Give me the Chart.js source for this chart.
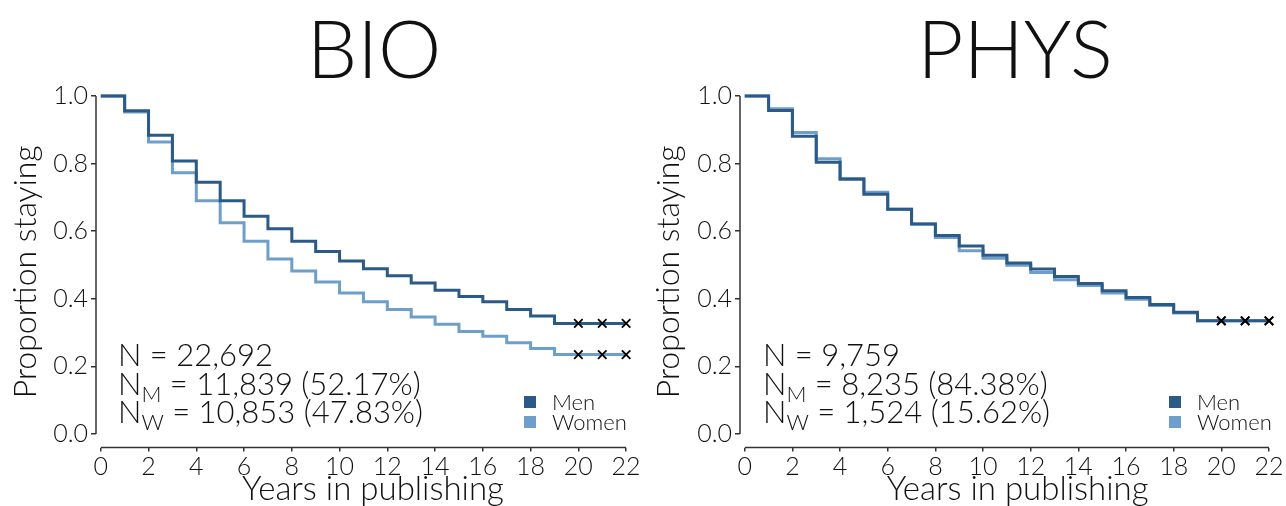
<!DOCTYPE html>
<html><head><meta charset="utf-8">
<script src="https://cdn.jsdelivr.net/npm/chart.js@4.4.0/dist/chart.umd.min.js"></script>
<style>
html,body{margin:0;padding:0;background:#fff;}
#wrap{position:relative;width:1286px;height:506px;overflow:hidden;font-family:Lato,sans-serif;font-weight:300;color:#111;}
canvas{position:absolute;top:0;}
.title{position:absolute;font-size:80px;line-height:80px;width:400px;text-align:center;white-space:nowrap;}
.ann{position:absolute;font-size:31px;line-height:28.5px;white-space:nowrap;}
.ann sub{font-size:22px;vertical-align:-7px;line-height:0;}
.leg{position:absolute;font-size:22px;line-height:20px;}
.leg .row{display:flex;align-items:center;height:20px;}
.leg .sw{width:12px;height:12px;margin-right:16px;}
</style></head>
<body>
<div id="wrap">
  <canvas id="c1" width="660" height="506" style="left:0"></canvas>
  <canvas id="c2" width="660" height="506" style="left:643px"></canvas>
  <div class="title" style="left:174px;top:7px">BIO</div>
  <div class="title" style="left:815px;top:7px">PHYS</div>
  <div class="ann" style="left:118px;top:340px">N = 22,692<br>N<sub>M</sub> = 11,839 (52.17%)<br>N<sub>W</sub> = 10,853 (47.83%)</div>
  <div class="ann" style="left:763px;top:340px">N = 9,759<br>N<sub>M</sub> = 8,235 (84.38%)<br>N<sub>W</sub> = 1,524 (15.62%)</div>
  <div class="leg" style="left:524px;top:392px"><div class="row"><span class="sw" style="background:#2c5a88"></span>Men</div><div class="row"><span class="sw" style="background:#6d9fca"></span>Women</div></div>
  <div class="leg" style="left:1169px;top:392px"><div class="row"><span class="sw" style="background:#2c5a88"></span>Men</div><div class="row"><span class="sw" style="background:#6d9fca"></span>Women</div></div>
</div>
<script>
const years = [0,1,2,3,4,5,6,7,8,9,10,11,12,13,14,15,16,17,18,19,20,21,22];
const bioMen    = [1.000,0.956,0.884,0.808,0.745,0.690,0.644,0.607,0.570,0.540,0.512,0.489,0.468,0.447,0.425,0.407,0.391,0.368,0.349,0.327,0.327,0.327,0.327];
const bioWomen  = [1.000,0.953,0.864,0.773,0.690,0.625,0.570,0.518,0.482,0.450,0.417,0.391,0.368,0.346,0.325,0.303,0.289,0.270,0.253,0.235,0.235,0.235,0.235];
const physMen   = [1.000,0.957,0.881,0.804,0.754,0.709,0.665,0.621,0.587,0.556,0.529,0.506,0.488,0.466,0.445,0.424,0.404,0.383,0.360,0.335,0.335,0.335,0.335];
const physWomen = [1.000,0.962,0.892,0.814,0.756,0.715,0.665,0.621,0.581,0.542,0.520,0.499,0.478,0.456,0.439,0.417,0.399,0.380,0.358,0.335,0.335,0.335,0.335];
const censorYears = [20,21,22];
const xTicks = [0,2,4,6,8,10,12,14,16,18,20,22];
const yTicks = [0,0.2,0.4,0.6,0.8,1.0];

const MEN_COLOR = '#2c5a88', WOMEN_COLOR = '#6d9fca';
const FONT = 'Lato';

const cappedAxes = {
  id:'cappedAxes',
  afterDatasetsDraw(chart){
    const {ctx, chartArea, scales:{x,y}} = chart;
    ctx.save();
    ctx.strokeStyle = '#333'; ctx.lineWidth = 1.5;
    ctx.beginPath();
    ctx.moveTo(chartArea.left, y.getPixelForValue(yTicks[yTicks.length-1]));
    ctx.lineTo(chartArea.left, y.getPixelForValue(yTicks[0]));
    ctx.moveTo(x.getPixelForValue(xTicks[0]), chartArea.bottom);
    ctx.lineTo(x.getPixelForValue(xTicks[xTicks.length-1]), chartArea.bottom);
    ctx.stroke();
    ctx.restore();
  }
};

function makeChart(id, men, women, leftW, rightPad, xMax){
  const pts = arr => years.map((x,i)=>({x:x, y:arr[i]}));
  const cens = arr => censorYears.map(x=>({x:x, y:arr[years.indexOf(x)]}));
  const censorDs = arr => ({data:cens(arr), showLine:false, pointStyle:'crossRot', pointRadius:6, borderColor:'#000', backgroundColor:'#000', borderWidth:1.8, clip:false});
  const lineDs = (arr,c) => ({data:pts(arr), stepped:'before', borderColor:c, borderWidth:3, pointRadius:0, fill:false, clip:false, borderJoinStyle:'miter', borderCapStyle:'butt'});
  return new Chart(document.getElementById(id), {
    type:'line',
    data:{datasets:[censorDs(men), censorDs(women), lineDs(men,MEN_COLOR), lineDs(women,WOMEN_COLOR)]},
    options:{
      responsive:false, animation:false, devicePixelRatio:1,
      layout:{padding:{top:96,right:rightPad,left:0,bottom:0}},
      plugins:{legend:{display:false}, tooltip:{enabled:false}},
      scales:{
        x:{type:'linear', min:-0.2, max:xMax,
          afterBuildTicks:s=>{s.ticks = xTicks.map(v=>({value:v}));},
          afterFit:s=>{s.height = 58.5;},
          grid:{display:true, drawOnChartArea:false, drawTicks:true, tickLength:4, color:'#333', lineWidth:1.5},
          border:{display:false},
          ticks:{font:{family:FONT,size:25,weight:300}, color:'#111', padding:0, maxRotation:0, autoSkip:false, callback:v=>String(v)},
          title:{display:true, text:'Years in publishing', color:'#111', font:{family:FONT,size:33,weight:300,lineHeight:1}, padding:{top:0,bottom:0}}
        },
        y:{type:'linear', min:-0.04, max:1,
          afterBuildTicks:s=>{s.ticks = yTicks.map(v=>({value:v}));},
          afterFit:s=>{s.width = leftW;},
          grid:{display:true, drawOnChartArea:false, drawTicks:true, tickLength:5, color:'#333', lineWidth:1.5},
          border:{display:false},
          ticks:{font:{family:FONT,size:25,weight:300}, color:'#111', padding:3, callback:v=>Number(v).toFixed(1)},
          title:{display:true, text:'Proportion staying', color:'#111', font:{family:FONT,size:32,weight:300,lineHeight:1}, padding:{top:10,bottom:0}}
        }
      }
    },
    plugins:[cappedAxes]
  });
}
makeChart('c1', bioMen, bioWomen, 96, 10, 23);
makeChart('c2', physMen, physWomen, 97, 7, 23.1);
</script>
</body></html>
